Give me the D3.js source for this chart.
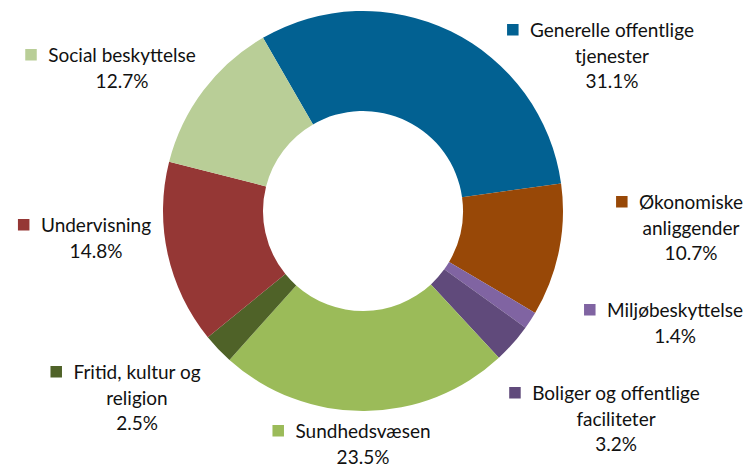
<!DOCTYPE html>
<html>
<head>
<meta charset="utf-8">
<script src="https://cdn.jsdelivr.net/npm/d3@7"></script>
<style>
  body { margin: 0; background: #fff; }
  svg { display: block; }
  .lbl { font-family: Lato, "Open Sans", sans-serif; font-size: 19px; fill: #111; }
</style>
</head>
<body>
<div id="chart"></div>
<script>
var svgWidth = 753;
var svgHeight = 466;

// Data
var categories = ["Generelle offentlige tjenester", "Økonomiske anliggender", "Miljøbeskyttelse",
  "Boliger og offentlige faciliteter", "Sundhedsvæsen", "Fritid, kultur og religion",
  "Undervisning", "Social beskyttelse"];
var shares = [31.1, 10.7, 1.4, 3.2, 23.5, 2.5, 14.8, 12.7];
var colors = ["#026192", "#984807", "#8064A2", "#604A7B", "#9BBB59", "#4F6228", "#953735", "#B9CE97"];

// label text lines (as wrapped in the original)
var labelLines = [
  ["Generelle offentlige", "tjenester"],
  ["Økonomiske", "anliggender"],
  ["Miljøbeskyttelse"],
  ["Boliger og offentlige", "faciliteter"],
  ["Sundhedsvæsen"],
  ["Fritid, kultur og", "religion"],
  ["Undervisning"],
  ["Social beskyttelse"]
];

// layout: centre x of text block and baseline of first line
var labelPos = [[612, 37], [691, 209], [675, 317], [616, 400], [363, 438], [137, 379], [96, 232], [122, 62]];

var cx = 363, cy = 211;
var outerR = 200, innerR = 100;
var lineH = 25.5;

var svg = d3.select("#chart")
  .append("svg")
  .attr("width", svgWidth)
  .attr("height", svgHeight);

var data = categories.map(function(c, i) {
  return { name: c, value: shares[i], color: colors[i], lines: labelLines[i], pos: labelPos[i] };
});

var startA = -30 * Math.PI / 180;
var pie = d3.pie()
  .value(d => d.value)
  .sort(null)
  .startAngle(startA)
  .endAngle(startA + 2 * Math.PI);

var arc = d3.arc()
  .innerRadius(innerR)
  .outerRadius(outerR);

var chartGroup = svg.append("g")
  .attr("transform", `translate(${cx}, ${cy})`);

chartGroup.selectAll("path")
  .data(pie(data))
  .enter()
  .append("path")
  .attr("d", arc)
  .attr("fill", d => d.data.color);

// Labels
var labels = svg.selectAll("g.label")
  .data(data)
  .enter()
  .append("g")
  .attr("class", "label")
  .attr("transform", d => `translate(${d.pos[0]}, ${d.pos[1]})`);

labels.each(function(d) {
  var g = d3.select(this);
  var lines = d.lines.concat([d.value.toFixed(1) + "%"]);
  var first = null;
  lines.forEach(function(t, i) {
    var txt = g.append("text")
      .attr("class", "lbl")
      .attr("x", 0)
      .attr("y", i * lineH)
      .attr("text-anchor", "middle")
      .text(t);
    if (i === 0) first = txt;
  });
  var w = first.node().getComputedTextLength();
  g.append("rect")
    .attr("x", -w / 2 - 23)
    .attr("y", -13)
    .attr("width", 11.5)
    .attr("height", 11.5)
    .attr("fill", d.color);
});
</script>
</body>
</html>
